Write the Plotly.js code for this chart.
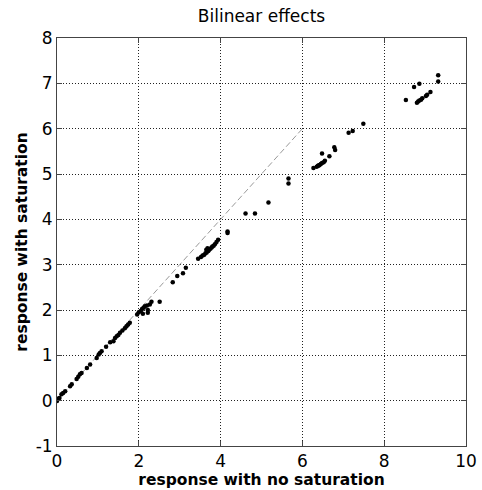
<!DOCTYPE html>
<html><head><meta charset="utf-8">
<script src="https://cdn.plot.ly/plotly-3.0.1.min.js"></script>
<style>body{margin:0;background:#fff}#c{width:482px;height:490px}</style>
</head><body><div id="c"></div>
<script>
// response with no saturation (x) and response with saturation (y)
const noSat = [0,0.03,0.06,0.11,0.15,0.2,0.32,0.36,0.48,0.52,0.56,0.6,0.73,0.81,0.97,1.02,1.05,1.09,1.2,1.3,1.38,1.42,1.46,1.5,1.54,1.6,1.66,1.7,1.74,1.78,
  1.96,2.0,2.05,2.08,2.1,2.12,2.15,2.2,2.22,2.22,2.27,2.31,2.51,2.83,2.94,3.08,3.15,
  3.45,3.52,3.56,3.6,3.63,3.65,3.66,3.68,3.7,3.72,3.75,3.78,3.8,3.83,3.86,3.9,3.94,4.17,4.17,
  4.61,4.84,5.17,5.66,5.66,
  6.27,6.35,6.38,6.4,6.42,6.45,6.48,6.52,6.55,6.48,6.66,6.78,6.8,7.13,7.23,7.49,
  8.53,8.73,8.8,8.83,8.86,8.86,8.9,8.93,9.02,9.05,9.13,9.32,9.32];
const withSat = [-0.01,0.04,0.06,0.14,0.17,0.21,0.32,0.36,0.48,0.53,0.58,0.61,0.72,0.8,0.94,1.02,1.05,1.09,1.19,1.29,1.31,1.38,1.42,1.45,1.5,1.55,1.6,1.64,1.68,1.72,
  1.9,1.95,1.98,2.02,1.92,2.05,2.08,2.1,1.94,2.0,2.12,2.18,2.18,2.61,2.75,2.81,2.93,
  3.13,3.17,3.2,3.22,3.25,3.33,3.27,3.36,3.3,3.33,3.35,3.38,3.4,3.42,3.45,3.5,3.55,3.73,3.7,
  4.13,4.13,4.37,4.9,4.79,
  5.13,5.16,5.18,5.19,5.2,5.22,5.24,5.26,5.29,5.45,5.39,5.59,5.53,5.91,5.95,6.11,
  6.63,6.92,6.57,6.6,6.62,6.99,6.64,6.67,6.72,6.75,6.81,7.04,7.18];
const refX = [0, 6];
const refY = [0, 6];
const xTicks = [0,2,4,6,8,10];
const yTicks = [-1,0,1,2,3,4,5,6,7,8];

const traces = [
  {x: refX, y: refY, mode: 'lines', line: {color: '#999', width: 1, dash: '6px,3px'}, hoverinfo: 'skip'},
  {x: noSat, y: withSat, mode: 'markers', marker: {color: '#000', size: 4.5, symbol: 'circle'}}
];
const ax = {
  showline: true, mirror: 'ticks', linecolor: '#444', linewidth: 1,
  ticks: 'inside', ticklen: 5, tickcolor: '#444',
  showgrid: true, gridcolor: '#222', griddash: '1px,2px', gridwidth: 1,
  zeroline: false, tickfont: {size: 17, color: '#000'}
};
const layout = {
  width: 482, height: 490,
  margin: {l: 57, r: 16, t: 38, b: 44},
  paper_bgcolor: '#fff', plot_bgcolor: '#fff',
  showlegend: false,
  font: {family: 'DejaVu Sans, sans-serif', color: '#000'},
  title: {text: 'Bilinear effects', font: {size: 17, color: '#000'}, xref: 'paper', x: 0.5, xanchor: 'center', yref: 'container', y: 0.968, yanchor: 'middle'},
  xaxis: Object.assign({}, ax, {range: [0, 10], tickvals: xTicks, ticktext: xTicks.map(String),
    title: {text: '<b>response with no saturation</b>', font: {size: 15.5}, standoff: 0}}),
  yaxis: Object.assign({}, ax, {range: [-1, 8], tickvals: yTicks, ticktext: yTicks.map(String),
    title: {text: '<b>response with saturation</b>', font: {size: 15.5}, standoff: 4}})
};
Plotly.newPlot('c', traces, layout, {displayModeBar: false, staticPlot: true});
</script></body></html>
